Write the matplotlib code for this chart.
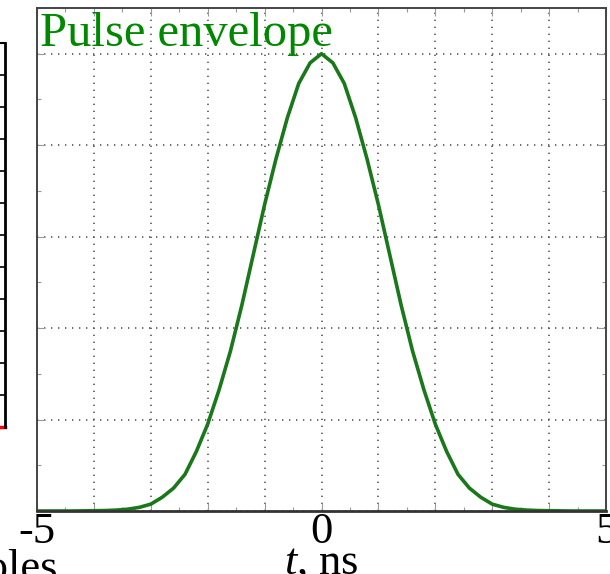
import matplotlib

matplotlib.use("Agg")
import matplotlib.pyplot as plt
from matplotlib.ticker import MultipleLocator, FixedLocator, FixedFormatter

plt.rcParams["font.family"] = ["Liberation Serif", "DejaVu Serif"]
plt.rcParams["mathtext.fontset"] = "custom"
plt.rcParams["mathtext.rm"] = "Liberation Serif"
plt.rcParams["mathtext.it"] = "Liberation Serif:italic"

# pulse envelope samples, t in ns (0.2 ns step)
t_ns = [-5.0, -4.8, -4.6, -4.4, -4.2, -4.0, -3.8, -3.6, -3.4, -3.2, -3.0,
        -2.8, -2.6, -2.4, -2.2, -2.0, -1.8, -1.6, -1.4, -1.2, -1.0,
        -0.8, -0.6, -0.4, -0.2, 0.0, 0.2, 0.4, 0.6, 0.8, 1.0,
        1.2, 1.4, 1.6, 1.8, 2.0, 2.2, 2.4, 2.6, 2.8, 3.0,
        3.2, 3.4, 3.6, 3.8, 4.0, 4.2, 4.4, 4.6, 4.8, 5.0]
envelope = [0.0, 0.0, 0.0, 0.0, 0.0003, 0.0006, 0.001, 0.002, 0.004, 0.008, 0.015,
            0.03, 0.05, 0.08, 0.13, 0.19, 0.265, 0.35, 0.45, 0.56, 0.67,
            0.77, 0.86, 0.935, 0.98, 1.0, 0.98, 0.935, 0.86, 0.77, 0.67,
            0.56, 0.45, 0.35, 0.265, 0.19, 0.13, 0.08, 0.05, 0.03, 0.015,
            0.008, 0.004, 0.002, 0.001, 0.0006, 0.0003, 0.0, 0.0, 0.0, 0.0]

x_ticks = [-5, -4, -3, -2, -1, 0, 1, 2, 3, 4, 5]
x_tick_labels = ["-5", "", "", "", "", "0", "", "", "", "", "5"]

W, H = 610, 574
fig = plt.figure(figsize=(W / 100, H / 100), dpi=100)

# neighbouring panel, mostly off the left edge
ax_l = fig.add_axes([-300 / W, 1 - 427 / H, 305 / W, (427 - 43) / H])
ax_l.set_xlim(0, 1)
ax_l.set_ylim(0, 12)
ax_l.plot([0, 1], [0, 0], color="red", lw=2.5, clip_on=False)
for s in ("left", "bottom"):
    ax_l.spines[s].set_visible(False)
ax_l.spines["right"].set_linewidth(2.0)
ax_l.spines["top"].set_linewidth(1.5)
ax_l.yaxis.set_major_locator(MultipleLocator(1))
ax_l.tick_params(axis="y", which="both", left=False, right=True, direction="in",
                 length=5, width=1.2, labelleft=False, labelright=False)
ax_l.set_xticks([])
fig.text(58 / W, 1 - 580 / H, "samples", fontsize=32, ha="right", va="baseline")

# pulse envelope panel
ax = fig.add_axes([37 / W, 1 - 511 / H, (606 - 37) / W, (511 - 8) / H])
ax.plot(t_ns, envelope, color="#1a781a", lw=2.6)
ax.set_xlim(-5, 5)
ax.set_ylim(0, 1.1)

ax.xaxis.set_major_locator(FixedLocator(x_ticks))
ax.xaxis.set_major_formatter(FixedFormatter(x_tick_labels))
ax.xaxis.set_minor_locator(MultipleLocator(0.5))
ax.yaxis.set_major_locator(MultipleLocator(0.2))
ax.yaxis.set_minor_locator(MultipleLocator(0.1))
ax.tick_params(which="both", direction="in", top=True, right=True,
               color="#999999", width=0.8)
ax.tick_params(which="major", length=6, labelsize=32, pad=1, labelleft=False)
ax.tick_params(which="minor", length=3)

ax.grid(True, which="major", color="#555555", lw=1.2, linestyle=(0, (0.8, 3.4)))
for s in ax.spines.values():
    s.set_color("#444444")
    s.set_linewidth(1.4)
ax.spines["bottom"].set_color("#333333")
ax.spines["bottom"].set_linewidth(2.0)

ax.set_xlabel(r"$t$, ns", fontsize=32, labelpad=-7)
ax.text(0.005, 0.924, "Pulse envelope", transform=ax.transAxes,
        fontsize=35, color="#008800", ha="left", va="baseline")

fig.savefig("out.png", dpi=100)
